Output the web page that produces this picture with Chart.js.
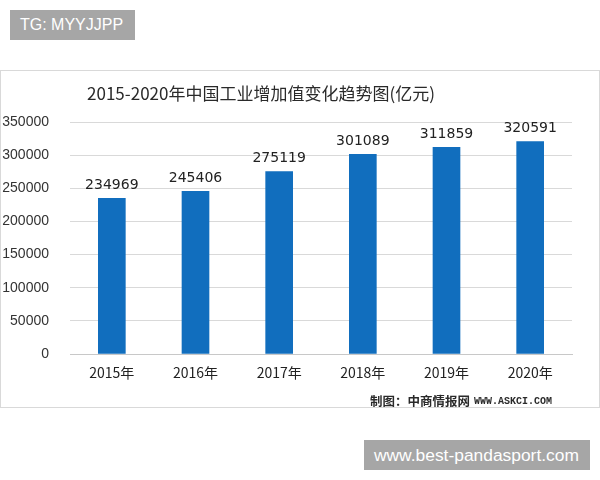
<!DOCTYPE html>
<html>
<head>
<meta charset="utf-8">
<script src="https://cdn.jsdelivr.net/npm/chart.js@4"></script>
<style>
  html, body { margin: 0; padding: 0; background: #ffffff; width: 600px; height: 480px; overflow: hidden; }
  .tag { position: absolute; background: #a6a6a6; color: #ffffff; font-family: "Liberation Sans", Arial, sans-serif; font-size: 16px; line-height: 30px; height: 30px; box-sizing: border-box; }
  #tagTop { left: 10px; top: 10px; width: 125px; padding-left: 10px; }
  #tagBottom { left: 364px; top: 440px; width: 226px; padding-left: 10px; font-size: 17.4px; }
  #frame { position: absolute; left: 0; top: 70px; width: 600px; height: 338px; box-sizing: border-box; border: 1px solid #d9d9d9; pointer-events: none; }
  #wrap { position: absolute; left: 0; top: 70px; width: 600px; height: 338px; }
</style>
</head>
<body>
<div class="tag" id="tagTop">TG: MYYJJPP</div>
<div id="wrap"><canvas id="c" width="600" height="338"></canvas></div>
<div id="frame"></div>
<div class="tag" id="tagBottom">www.best-pandasport.com</div>
<script>
const categories = ["2015年", "2016年", "2017年", "2018年", "2019年", "2020年"];
const values = [234969, 245406, 275119, 301089, 311859, 320591];
const yTicks = [0, 50000, 100000, 150000, 200000, 250000, 300000, 350000];
const titleText = "2015-2020年中国工业增加值变化趋势图(亿元)";
const footerCn = "制图：中商情报网";
const footerEn = "WWW.ASKCI.COM";

const extras = {
  id: 'extras',
  afterDatasetsDraw(chart) {
    const ctx = chart.ctx;
    const meta = chart.getDatasetMeta(0);
    ctx.save();
    ctx.fillStyle = '#222222';
    ctx.font = '14px "DejaVu Sans", "Liberation Sans", sans-serif';
    ctx.textAlign = 'center';
    ctx.textBaseline = 'bottom';
    meta.data.forEach((bar, i) => {
      ctx.fillText(String(values[i]), bar.x, bar.y - 6);
    });
    ctx.restore();
  },
  afterDraw(chart) {
    const ctx = chart.ctx;
    ctx.save();
    ctx.fillStyle = '#2a2a2a';
    ctx.font = '17px "Noto Sans CJK SC", sans-serif';
    ctx.textAlign = 'center';
    ctx.textBaseline = 'middle';
    ctx.fillText(titleText, 261, 24);
    ctx.font = 'bold 12.5px "Noto Sans CJK SC", sans-serif';
    ctx.textAlign = 'left';
    ctx.fillText(footerCn, 370, 331);
    const w = ctx.measureText(footerCn).width;
    ctx.font = 'bold 10px "Liberation Mono", monospace';
    ctx.fillText(footerEn, 370 + w + 4, 331);
    ctx.restore();
  }
};

new Chart(document.getElementById('c'), {
  type: 'bar',
  data: {
    labels: categories,
    datasets: [{
      data: values,
      backgroundColor: '#116ebe',
      borderWidth: 0,
      barThickness: 27
    }]
  },
  options: {
    responsive: false,
    animation: false,
    devicePixelRatio: 1,
    layout: { padding: { top: 52, right: 28, left: 0, bottom: 0 } },
    plugins: { legend: { display: false }, tooltip: { enabled: false }, title: { display: false } },
    scales: {
      x: {
        grid: { display: false, drawTicks: false },
        border: { display: true, color: '#c8c8c8', width: 1 },
        ticks: { color: '#222222', font: { size: 14, family: '"Noto Sans CJK SC", sans-serif' }, padding: 10 },
        afterFit(s) { s.height = 54; }
      },
      y: {
        min: 0, max: 350000,
        afterBuildTicks(s) { s.ticks = yTicks.map(v => ({ value: v })); },
        grid: { color: '#d9d9d9', drawTicks: false },
        border: { display: false },
        ticks: {
          color: '#333333',
          font: { size: 14, family: '"Liberation Sans", Arial, sans-serif' },
          padding: 21,
          callback: (v) => String(v)
        },
        afterFit(s) { s.width = 70; }
      }
    }
  },
  plugins: [extras]
});
</script>
</body>
</html>
